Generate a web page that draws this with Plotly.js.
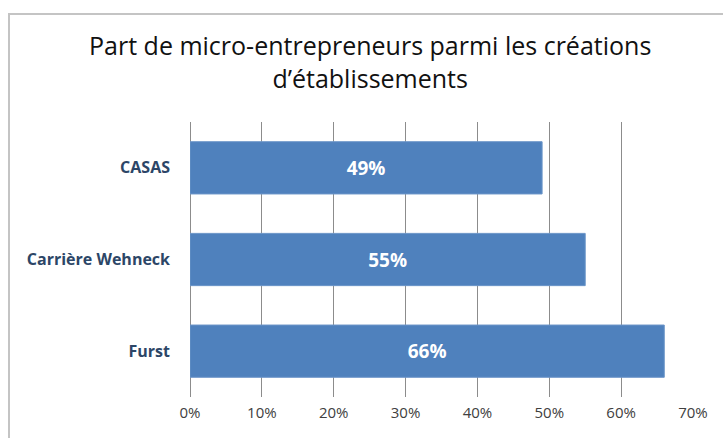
<!DOCTYPE html>
<html>
<head>
<meta charset="utf-8">
<script src="https://cdn.plot.ly/plotly-3.0.1.min.js"></script>
<style>
  html, body { margin: 0; padding: 0; overflow: hidden; background: #fff; }
  #frame { position: absolute; left: 8px; top: 13px; width: 800px; height: 500px;
           border: 2px solid #c4c4c4; pointer-events: none; }
</style>
</head>
<body>
<div id="chart" style="width:723px;height:438px;"></div>
<div id="frame"></div>
<script>
const sites = ['CASAS', 'Carrière Wehneck', 'Furst'];
const shares = [0.49, 0.55, 0.66];

const data = [{
  type: 'bar',
  orientation: 'h',
  y: sites,
  x: shares,
  marker: {color: '#4f81bd', line: {color: '#6b95c8', width: 1}},
  texttemplate: '%{x:.0%}',
  textposition: 'inside',
  insidetextanchor: 'middle',
  textfont: {family: 'Open Sans', size: 19, color: '#ffffff', weight: 'bold'},
  hoverinfo: 'none'
}];

const layout = {
  width: 723,
  height: 438,
  margin: {l: 190, r: 30, t: 122, b: 41},
  paper_bgcolor: '#ffffff',
  plot_bgcolor: '#ffffff',
  showlegend: false,
  bargap: 0.43,
  title: {
    text: 'Part de micro-entrepreneurs parmi les créations<br>d’établissements',
    font: {family: 'Open Sans', size: 25, color: '#111111'},
    xref: 'container', x: 0.512, xanchor: 'center',
    yref: 'container', y: 1 - 55 / 438, yanchor: 'top'
  },
  xaxis: {
    range: [0, 0.7],
    dtick: 0.1,
    tickformat: '.0%',
    showgrid: true,
    gridcolor: '#8c8c8c',
    gridwidth: 1,
    zeroline: true,
    zerolinecolor: '#8c8c8c',
    zerolinewidth: 1,
    showline: false,
    ticks: '',
    ticklabelstandoff: 5,
    tickfont: {family: 'Open Sans', size: 15, color: '#404040'},
    fixedrange: true
  },
  yaxis: {
    autorange: 'reversed',
    showgrid: false,
    showline: false,
    ticks: '',
    ticklabelstandoff: 19,
    tickfont: {family: 'Open Sans', size: 16, color: '#2c4667', weight: 'bold'},
    fixedrange: true
  }
};

Plotly.newPlot('chart', data, layout, {staticPlot: true});
</script>
</body>
</html>
